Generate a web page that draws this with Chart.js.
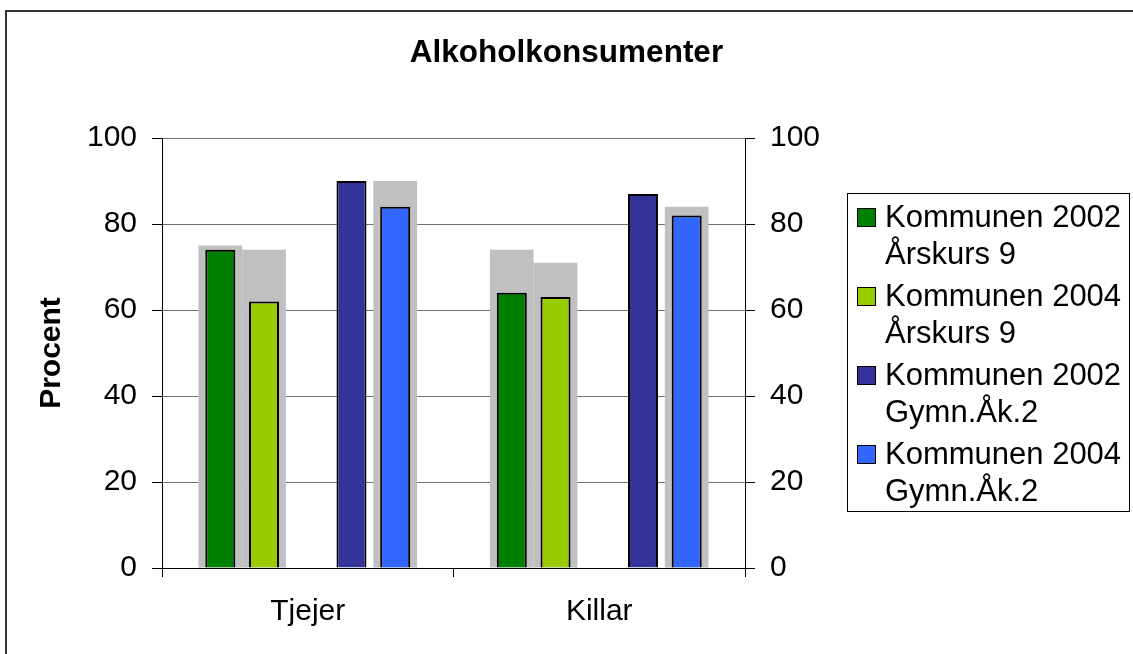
<!DOCTYPE html>
<html><head><meta charset="utf-8">
<script src="https://cdn.jsdelivr.net/npm/chart.js@4.4.1/dist/chart.umd.min.js"></script>
<style>html,body{margin:0;padding:0;background:#fff;} canvas{display:block;}</style>
</head><body>
<canvas id="c" width="1133" height="654"></canvas>
<script>
// ---- data ----
const categories = ['Tjejer', 'Killar'];
const seriesLabels = [
  ['Kommunen 2002', 'Årskurs 9'],
  ['Kommunen 2004', 'Årskurs 9'],
  ['Kommunen 2002', 'Gymn.Åk.2'],
  ['Kommunen 2004', 'Gymn.Åk.2']
];
const kommunen2002Ak9  = [74, 64];
const kommunen2004Ak9  = [62, 63];
const kommunen2002Gymn = [90, 87];
const kommunen2004Gymn = [84, 82];
// grey comparison bars behind each series (secondary axis)
const jamf2002Ak9  = [75, 74];
const jamf2004Ak9  = [74, 71];
const jamf2002Gymn = [null, null];
const jamf2004Gymn = [90, 84];
const yTicks = [0, 20, 40, 60, 80, 100];
const emptySlot = [null, null];

// ---- styles ----
const FONT = "'Liberation Sans', Arial, sans-serif";
const seriesColors = ['#008000', '#99CC00', '#333399', '#3366FF'];
const greyColor = '#C0C0C0';
Chart.defaults.font.family = FONT;
Chart.defaults.color = '#000';

const mainSeries = [kommunen2002Ak9, kommunen2004Ak9, kommunen2002Gymn, kommunen2004Gymn];
const greySeries = [jamf2002Ak9, jamf2004Ak9, jamf2002Gymn, jamf2004Gymn];

const datasets = [];
// slots: s1, s2, (gap), s3, s4
const slotOrder = [0, 1, -1, 2, 3];
slotOrder.forEach((si, k) => {
  const stack = 'slot' + k;
  if (si < 0) {
    datasets.push({ label: '', data: emptySlot, stack, yAxisID: 'y', order: 1,
      backgroundColor: 'rgba(0,0,0,0)', barPercentage: 0.686, categoryPercentage: 0.75 });
  } else {
    datasets.push({ label: seriesLabels[si].join(' '), legendLines: seriesLabels[si],
      data: mainSeries[si], stack, yAxisID: 'y', order: 1,
      backgroundColor: seriesColors[si], borderColor: '#000', borderWidth: 2,
      barPercentage: 0.686, categoryPercentage: 0.75 });
  }
});
slotOrder.forEach((si, k) => {
  datasets.push({ label: '', data: si < 0 ? emptySlot : greySeries[si], stack: 'slot' + k,
    yAxisID: 'y2', order: 2,
    backgroundColor: greyColor, borderWidth: 0, barPercentage: 1.0, categoryPercentage: 0.75 });
});

const framePlugin = {
  id: 'frame',
  beforeDraw(chart) {
    const ctx = chart.ctx;
    ctx.save();
    ctx.fillStyle = '#fff';
    ctx.fillRect(0, 0, chart.width, chart.height);
    ctx.strokeStyle = '#333';
    ctx.lineWidth = 2;
    ctx.strokeRect(6, 11, 1200, 800);
    ctx.restore();
  }
};

const boxLegend = {
  id: 'boxLegend',
  afterDraw(chart) {
    const ctx = chart.ctx;
    ctx.save();
    ctx.strokeStyle = '#000';
    ctx.lineWidth = 1;
    ctx.strokeRect(847.5, 193.5, 282, 318);
    ctx.font = '31px ' + FONT;
    ctx.textBaseline = 'alphabetic';
    ctx.textAlign = 'left';
    chart.data.datasets.filter(d => d.legendLines).forEach((d, i) => {
      const y0 = 208 + i * 79;
      ctx.fillStyle = d.backgroundColor;
      ctx.fillRect(857, y0, 18, 18);
      ctx.strokeStyle = '#000';
      ctx.strokeRect(857.5, y0 + 0.5, 18, 18);
      ctx.fillStyle = '#000';
      d.legendLines.forEach((t, j) => ctx.fillText(t, 885, y0 + 19 + j * 36.5));
    });
    ctx.restore();
  }
};

new Chart(document.getElementById('c'), {
  type: 'bar',
  data: { labels: categories, datasets },
  options: {
    responsive: false,
    animation: false,
    devicePixelRatio: 1,
    layout: { padding: 0 },
    plugins: {
      legend: { display: false },
      tooltip: { enabled: false },
      title: {
        display: true,
        text: 'Alkoholkonsumenter',
        font: { size: 31.5, weight: 'bold', family: FONT },
        color: '#000',
        padding: { top: 34, bottom: 66.2 }
      }
    },
    scales: {
      x: {
        type: 'category',
        position: 'bottom',
        offset: true,
        grid: { offset: true, drawOnChartArea: false, tickLength: 9, color: '#000', tickColor: '#000' },
        border: { color: '#000', width: 1 },
        ticks: { font: { size: 30, family: FONT }, color: '#000', padding: 17 },
        afterFit: (s) => { s.height = 86; }
      },
      y: {
        position: 'left',
        stacked: false,
        min: 0, max: 100,
        afterBuildTicks: (s) => { s.ticks = yTicks.map(v => ({ value: v })); },
        grid: { color: '#707070', tickColor: '#000', tickLength: 10 },
        border: { color: '#000', width: 1 },
        ticks: { font: { size: 30, family: FONT }, color: '#000', padding: 15 },
        title: { display: true, text: 'Procent', font: { size: 30, weight: 'bold', family: FONT }, color: '#000', padding: { top: 34, bottom: 0 } },
        afterFit: (s) => { s.width = 162; }
      },
      y2: {
        position: 'right',
        stacked: false,
        min: 0, max: 100,
        afterBuildTicks: (s) => { s.ticks = yTicks.map(v => ({ value: v })); },
        grid: { drawOnChartArea: false, tickColor: '#000', tickLength: 10 },
        border: { color: '#000', width: 1 },
        ticks: { font: { size: 30, family: FONT }, color: '#000', padding: 15 },
        afterFit: (s) => { s.width = 388; }
      }
    }
  },
  plugins: [framePlugin, boxLegend]
});
</script>
</body></html>
